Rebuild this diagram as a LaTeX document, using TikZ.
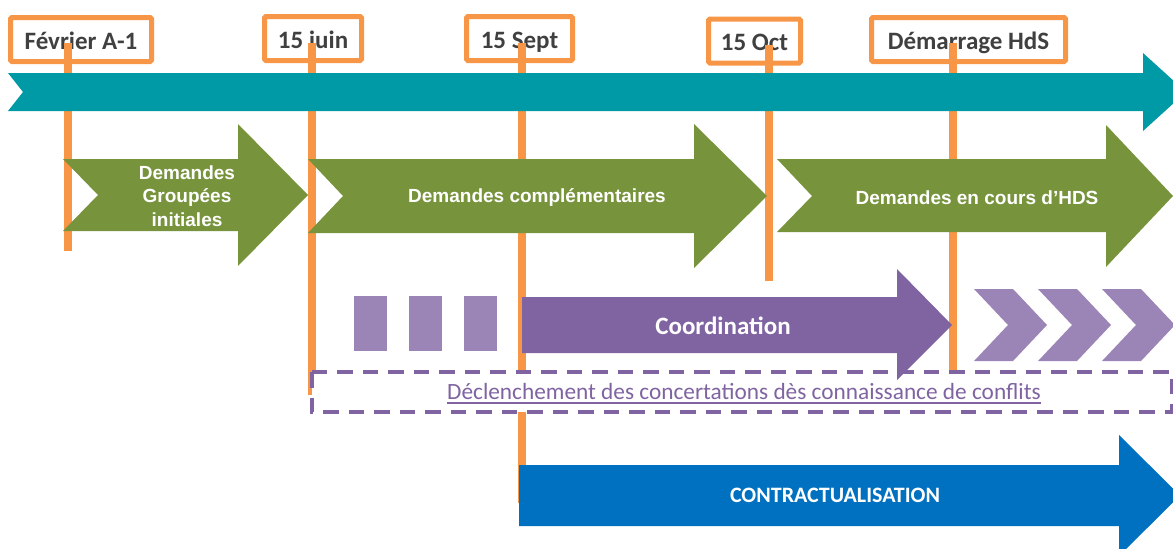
\documentclass[tikz,border=0pt]{standalone}
\usepackage{fontspec}
\setmainfont{Carlito}
\newfontfamily\arialf{Liberation Sans}
\definecolor{tealc}{RGB}{0,154,166}
\definecolor{greenc}{RGB}{119,147,60}
\definecolor{orangec}{RGB}{247,150,70}
\definecolor{dpurple}{RGB}{128,100,162}
\definecolor{lpurple}{RGB}{155,133,183}
\definecolor{bluec}{RGB}{0,112,192}
\definecolor{grayc}{RGB}{64,64,64}
\tikzset{
  datebox/.style={draw=orangec, line width=5pt, rounded corners=1.5pt, fill=white,
    inner sep=0pt, text height=25pt, text depth=6pt, minimum height=44pt,
    text=grayc, font=\fontsize{25}{30}\selectfont\bfseries},
  vline/.style={draw=orangec, line width=7.5pt},
  greenarrow/.style={fill=greenc},
  greentext/.style={text=white, font=\arialf\fontsize{19}{23.5}\selectfont\bfseries, align=center, inner sep=0pt},
  lightblock/.style={fill=lpurple},
  dashbox/.style={draw=dpurple, fill=white, line width=4.5pt, dash pattern=on 15.5pt off 10pt},
}
\begin{document}
\begin{tikzpicture}[x=1pt,y=-1pt]
\useasboundingbox (0,0) rectangle (1173,549);
\clip (0,0) rectangle (1173,549);

% date labels
\node[datebox, minimum width=141pt] (fev) at (81,39.5) {Février A-1};
\node[datebox, minimum width=97pt] (juin) at (313,38.5) {15 juin};
\node[datebox, minimum width=106pt] (sept) at (519.5,38.5) {15 Sept};
\node[datebox, minimum width=92pt] (oct) at (754.5,41) {15 Oct};
\node[datebox, minimum width=194pt] (dem) at (968.5,39.5) {Démarrage HdS};

% vertical markers
\coordinate (fevT) at (68,43);   \coordinate (fevB) at (68,251);
\coordinate (juinT) at (312,43); \coordinate (juinB) at (312,395);
\coordinate (septT) at (522,43); \coordinate (septB) at (522,503);
\coordinate (octT) at (769,45);  \coordinate (octB) at (769,281);
\coordinate (demT) at (953,43);  \coordinate (demB) at (953,370);
\draw[vline] (fevT) -- (fevB);
\draw[vline] (juinT) -- (juinB);
\draw[vline] (septT) -- (septB);
\draw[vline] (octT) -- (octB);
\draw[vline] (demT) -- (demB);

% main timeline arrow
\fill[tealc] (8,73) -- (1143,73) -- (1143,53) -- (1186,92) -- (1143,131) -- (1143,111) -- (8,111) -- (23,92) -- cycle;

% green arrows
\fill[greenarrow] (63,159) -- (238,159) -- (238,124) -- (308,195) -- (238,266) -- (238,231) -- (63,231) -- (98,195) -- cycle;
\node[greentext] (g1) at (187,196) {Demandes\\Groupées\\initiales};
\fill[greenarrow] (308,159) -- (694,159) -- (694,124) -- (767,196) -- (694,268) -- (694,233) -- (308,233) -- (343,196) -- cycle;
\node[greentext] (g2) at (537,198) {Demandes complémentaires};
\fill[greenarrow] (777,159) -- (1106,159) -- (1106,125) -- (1173,196) -- (1106,267) -- (1106,232) -- (777,232) -- (812,196) -- cycle;
\node[greentext] (g3) at (977,198) {Demandes en cours d’HDS};

% dashed box
\draw[dashbox] (312,372) rectangle (1172,412);
\node[text=dpurple, font=\fontsize{23.3}{27}\selectfont, inner sep=0pt] (decl) at (744,391) {Déclenchement des concertations dès connaissance de conflits};
\draw[dpurple, line width=1.8pt] ([yshift=-4pt]decl.base west) -- ([yshift=-4pt]decl.base east);

% coordination
\fill[lightblock] (354,296) rectangle (387,351);
\fill[lightblock] (409,296) rectangle (442,351);
\fill[lightblock] (464,296) rectangle (497,351);
\fill[dpurple] (522,297) -- (897,297) -- (897,269) -- (952,325) -- (897,380) -- (897,353) -- (522,353) -- cycle;
\node[text=white, font=\fontsize{25}{30}\selectfont\bfseries, inner sep=0pt] (coord) at (723,326) {Coordination};
\foreach \cx in {974,1038,1102}{
  \fill[lightblock] (\cx,289) -- (\cx+39,289) -- (\cx+73,325) -- (\cx+39,361) -- (\cx,361) -- (\cx+34,325) -- cycle;
}

% contractualisation
\fill[bluec] (519,465) -- (1119,465) -- (1119,435) -- (1180,495.5) -- (1119,556) -- (1119,526) -- (519,526) -- cycle;
\node[text=white, font=\fontsize{22}{26}\selectfont\bfseries, inner sep=0pt] (contr) at (835,495) {CONTRACTUALISATION};
\end{tikzpicture}
\end{document}
